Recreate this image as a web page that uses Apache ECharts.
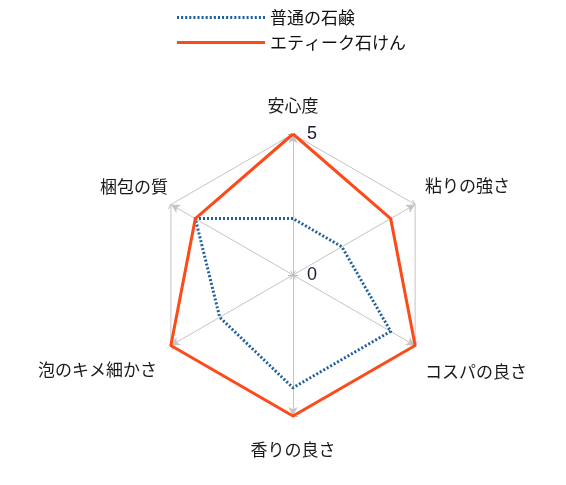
<!DOCTYPE html>
<html>
<head>
<meta charset="utf-8">
<script src="https://cdn.jsdelivr.net/npm/echarts@6/dist/echarts.min.js"></script>
<style>
  html, body { margin: 0; padding: 0; background: #fff; }
  #chart { width: 566px; height: 485px; }
</style>
</head>
<body>
<div id="chart"></div>
<script>
//axes of the radar, clockwise from the top
const indicators = ["安心度", "粘りの強さ", "コスパの良さ", "香りの良さ", "泡のキメ細かさ", "梱包の質"];

//series names and values (same order as indicators)
const seriesNames = ["普通の石鹸", "エティーク石けん"];
const normalSoap = [2, 2, 4, 4, 3, 4];
const ethiqueSoap = [5, 4, 5, 5, 5, 4];

//scale
const maxValue = 5;

const center = [293, 275];
const radius = 141;

//echarts radar goes counter clockwise, so keep the first one and flip the rest
const order = [0, 5, 4, 3, 2, 1];
const reorder = arr => order.map(i => arr[i]);

//name label nudges per axis (top, upper right, lower right, bottom, lower left, upper left)
const nameKeys = ["top", "ur", "lr", "bot", "ll", "ul"];
const nameStyle = pad => ({ fontSize: 17, lineHeight: 18, color: "#1a1a1a", fontFamily: "Noto Sans CJK JP", padding: pad });
const nameRich = {
    top: nameStyle([0, 0, 38, 0]),
    ur: nameStyle([0, 0, 38, 10]),
    lr: nameStyle([52, 0, 0, 10]),
    bot: nameStyle([50, 0, 0, 0]),
    ll: nameStyle([48, 14, 0, 0]),
    ul: nameStyle([0, 3, 36, 0])
};

//dotted line icon for the legend
const dotIcon = "path://" + Array.from({ length: 22 }, (d, i) => `M${i * 2},0h1v1h-1z`).join("");

const chart = echarts.init(document.getElementById("chart"));
const option = {
    animation: false,
    textStyle: { fontFamily: "Noto Sans CJK JP" },
    legend: {
        orient: "vertical",
        left: 172,
        top: 4,
        itemWidth: 88,
        itemHeight: 3,
        itemGap: 8,
        symbolKeepAspect: false,
        textStyle: { fontSize: 17, color: "#111", fontFamily: "Noto Sans CJK JP" },
        data: [
            { name: seriesNames[0], icon: dotIcon },
            { name: seriesNames[1], icon: "rect" }
        ]
    },
    radar: {
        center: center,
        radius: radius,
        startAngle: 90,
        splitNumber: 1,
        shape: "polygon",
        nameGap: 0,
        axisName: {
            formatter: name => `{${nameKeys[indicators.indexOf(name)]}|${name}}`,
            rich: nameRich
        },
        indicator: reorder(indicators).map(name => ({ name: name, min: 0, max: maxValue })),
        axisLine: {
            lineStyle: { color: "#c4c4c4", width: 1 },
            symbol: ["none", "arrow"],
            symbolSize: [7, 9]
        },
        axisTick: { show: true, length: 5, lineStyle: { color: "#bbb" } },
        splitLine: { lineStyle: { color: "#c4c4c4", width: 1 } },
        splitArea: { show: false }
    },
    //polar only for the 0 / 5 labels on the top axis
    polar: { center: center, radius: radius },
    angleAxis: {
        type: "value",
        startAngle: 90,
        axisLine: { show: false },
        axisTick: { show: false },
        axisLabel: { show: false },
        splitLine: { show: false }
    },
    radiusAxis: {
        type: "value",
        min: 0,
        max: maxValue,
        interval: maxValue,
        axisLine: { show: false },
        axisTick: { show: false },
        splitLine: { show: false },
        axisLabel: { color: "#1a1a33", fontSize: 18, margin: -14, align: "left", fontFamily: "Liberation Sans" }
    },
    series: [
        {
            type: "radar",
            symbol: "none",
            data: [
                {
                    name: seriesNames[0],
                    value: reorder(normalSoap),
                    itemStyle: { color: "#1f5f9e" },
                    lineStyle: { color: "#1f5f9e", width: 3, type: [2, 2] }
                },
                {
                    name: seriesNames[1],
                    value: reorder(ethiqueSoap),
                    itemStyle: { color: "#fd4a18" },
                    lineStyle: { color: "#fd4a18", width: 3 }
                }
            ]
        }
    ]
};
chart.setOption(option);
</script>
</body>
</html>
